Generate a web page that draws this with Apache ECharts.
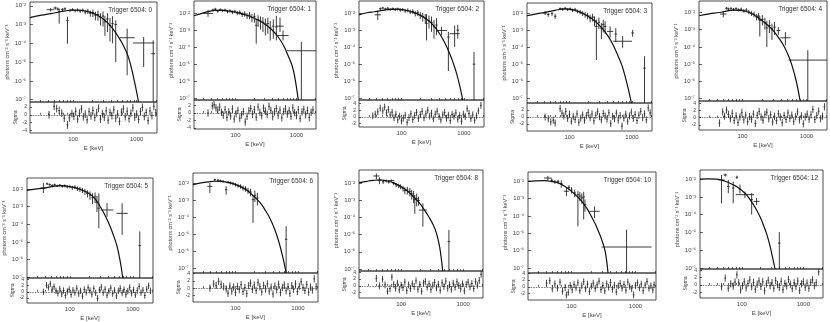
<!DOCTYPE html>
<html>
<head>
<meta charset="utf-8">
<script src="https://cdn.jsdelivr.net/npm/echarts@6/dist/echarts.min.js"></script>
<style>
html, body { margin: 0; background: #fff; }
#chart { width: 830px; height: 322px; }
</style>
</head>
<body>
<div id="chart"></div>
<script>
// all values are log10: E in keV, flux in photons cm^-2 s^-1 keV^-1
// spectrum points: [logE, logF, half bin width, upper end, lower end]
// residual points: [logE, sigma]
const titles = ['Trigger 6504: 0', 'Trigger 6504: 1', 'Trigger 6504: 2', 'Trigger 6504: 3', 'Trigger 6504: 4',
    'Trigger 6504: 5', 'Trigger 6504: 6', 'Trigger 6504: 8', 'Trigger 6504: 10', 'Trigger 6504: 12']
const xTickLabels = { 2: '100', 3: '1000' }
const yTickPowers = [-7, -6, -5, -4, -3, -2]
const energyRange = [1.32, 3.32]
const fluxRanges = [[-7.12, -1.8], [-7.1, -1.27], [-7.1, -1.29], [-7.25, -1.37], [-7.15, -1.33],
    [-7.04, -1.38], [-7.3, -1.37], [-7.12, -1.22], [-7.29, -1.46], [-7.06, -1.48]]
const sigmaRanges = [[-4.7, 3.3], [-4.3, 3.5], [-3, 5], [-4, 4], [-3.4, 4.6],
    [-3.6, 4.4], [-3.8, 4.2], [-3.6, 4.4], [-3.9, 4.1], [-3.6, 4.4]]

const curve0 = [[1.32,-2.63],[1.50,-2.50],[1.65,-2.42],[1.80,-2.32],[1.98,-2.24],[2.10,-2.24],[2.22,-2.30],[2.33,-2.42],[2.43,-2.60],[2.54,-2.90],[2.64,-3.30],[2.72,-3.70],[2.78,-4.05],[2.87,-4.73],[2.95,-5.80],[3.03,-7.12]]
const curve1 = [[1.32,-2.14],[1.45,-2.00],[1.55,-1.90],[1.66,-1.82],[1.80,-1.82],[1.93,-1.88],[2.07,-1.98],[2.21,-2.14],[2.35,-2.36],[2.48,-2.62],[2.60,-2.98],[2.70,-3.39],[2.79,-3.90],[2.87,-4.55],[2.93,-5.10],[2.97,-5.71],[3.03,-7.1]]
const curve2 = [[1.32,-2.10],[1.45,-1.98],[1.56,-1.92],[1.65,-1.87],[1.78,-1.80],[1.92,-1.77],[2.05,-1.82],[2.19,-1.96],[2.30,-2.13],[2.40,-2.35],[2.51,-2.72],[2.61,-3.21],[2.69,-3.72],[2.77,-4.37],[2.83,-4.95],[2.88,-5.52],[2.94,-6.40],[2.98,-7.1]]
const curve3 = [[1.32,-2.12],[1.45,-2.02],[1.61,-1.92],[1.77,-1.80],[1.93,-1.72],[2.07,-1.78],[2.20,-1.96],[2.31,-2.18],[2.41,-2.45],[2.52,-2.85],[2.62,-3.33],[2.70,-3.85],[2.78,-4.51],[2.84,-5.05],[2.89,-5.68],[2.94,-6.40],[2.99,-7.25]]
const curve4 = [[1.32,-2.19],[1.48,-2.08],[1.64,-2.00],[1.75,-1.92],[1.85,-1.86],[1.96,-1.88],[2.06,-1.94],[2.17,-2.12],[2.27,-2.38],[2.38,-2.70],[2.48,-3.05],[2.56,-3.45],[2.64,-3.91],[2.71,-4.45],[2.77,-5.05],[2.84,-6.00],[2.90,-7.15]]
const curve5 = [[1.32,-2.08],[1.45,-2.01],[1.58,-1.95],[1.72,-1.87],[1.85,-1.81],[1.98,-1.86],[2.11,-1.95],[2.22,-2.10],[2.33,-2.32],[2.41,-2.60],[2.48,-2.98],[2.56,-3.50],[2.64,-4.12],[2.70,-4.70],[2.75,-5.25],[2.80,-6.10],[2.84,-7.04]]
const curve6 = [[1.32,-2.06],[1.45,-1.96],[1.56,-1.90],[1.67,-1.86],[1.78,-1.87],[1.88,-1.93],[1.96,-2.00],[2.08,-2.18],[2.20,-2.44],[2.30,-2.78],[2.40,-3.15],[2.47,-3.54],[2.55,-4.05],[2.63,-4.73],[2.69,-5.40],[2.76,-6.40],[2.81,-7.3]]
const curve7 = [[1.32,-1.96],[1.45,-1.88],[1.55,-1.83],[1.65,-1.80],[1.76,-1.85],[1.87,-1.96],[1.98,-2.16],[2.08,-2.39],[2.19,-2.75],[2.30,-3.17],[2.38,-3.58],[2.46,-4.04],[2.52,-4.45],[2.57,-4.92],[2.62,-5.70],[2.67,-7.12]]
const curve8 = [[1.32,-2.00],[1.45,-1.97],[1.58,-1.96],[1.68,-2.00],[1.79,-2.09],[1.90,-2.30],[2.00,-2.58],[2.08,-2.85],[2.16,-3.15],[2.24,-3.56],[2.31,-4.02],[2.37,-4.45],[2.42,-4.88],[2.47,-5.35],[2.52,-5.94],[2.55,-6.60],[2.57,-7.29]]
const curve9 = [[1.32,-1.99],[1.45,-1.98],[1.59,-1.99],[1.67,-2.05],[1.75,-2.14],[1.84,-2.28],[1.92,-2.42],[2.00,-2.63],[2.08,-2.89],[2.16,-3.28],[2.24,-3.73],[2.30,-4.15],[2.35,-4.57],[2.41,-5.15],[2.46,-5.79],[2.50,-6.40],[2.54,-7.06]]

const spec0 = [[1.645,-2.21,0.06,-2.12,-2.30],[1.72,-2.12,0.03,-2.05,-2.20],[1.76,-2.18,0.02,-2.10,-2.26],[1.78,-2.32,0.02,-2.15,-2.95],[1.83,-2.20,0.02,-2.12,-2.28],[1.87,-2.16,0.02,-2.09,-2.24],[1.91,-2.78,0.02,-2.58,-4.02],[1.95,-2.24,0.02,-2.16,-2.33],[1.99,-2.20,0.02,-2.13,-2.28],[2.03,-2.26,0.02,-2.18,-2.35],[2.07,-2.22,0.02,-2.14,-2.31],[2.11,-2.28,0.02,-2.19,-2.38],[2.15,-2.24,0.02,-2.14,-2.35],[2.19,-2.33,0.02,-2.22,-2.46],[2.23,-2.29,0.02,-2.17,-2.44],[2.27,-2.40,0.02,-2.26,-2.58],[2.31,-2.36,0.02,-2.20,-2.60],[2.35,-2.50,0.02,-2.32,-2.78],[2.39,-2.46,0.02,-2.26,-2.80],[2.43,-2.62,0.02,-2.40,-3.05],[2.47,-2.55,0.02,-2.30,-3.10],[2.50,-2.85,0.02,-2.55,-3.60],[2.54,-2.70,0.02,-2.40,-3.40],[2.58,-3.05,0.02,-2.65,-3.90],[2.62,-2.95,0.02,-2.55,-4.00],[2.67,-3.00,0.02,-2.78,-5.00],[2.85,-3.70,0.12,-3.22,-5.70],[3.11,-3.98,0.17,-3.66,-5.26],[3.26,-4.55,0.03,-3.84,-7.12]]
const spec1 = [[1.55,-2.00,0.08,-1.81,-2.20],[1.63,-1.80,0.02,-1.72,-1.88],[1.67,-1.75,0.02,-1.67,-1.83],[1.71,-1.86,0.02,-1.78,-1.95],[1.75,-1.78,0.02,-1.70,-1.86],[1.79,-1.84,0.02,-1.76,-1.92],[1.83,-1.80,0.02,-1.72,-1.89],[1.87,-1.90,0.02,-1.81,-2.00],[1.91,-1.85,0.02,-1.76,-1.95],[1.95,-1.93,0.02,-1.83,-2.04],[1.99,-1.88,0.02,-1.78,-1.99],[2.03,-1.98,0.02,-1.87,-2.10],[2.07,-1.94,0.02,-1.82,-2.08],[2.11,-2.06,0.02,-1.93,-2.21],[2.15,-2.02,0.02,-1.88,-2.19],[2.19,-2.14,0.02,-1.98,-2.34],[2.23,-2.10,0.02,-1.92,-2.34],[2.27,-2.24,0.02,-2.04,-2.52],[2.31,-2.20,0.02,-1.98,-2.55],[2.34,-2.70,0.02,-2.33,-3.78],[2.37,-2.35,0.02,-2.10,-2.80],[2.41,-2.45,0.02,-2.18,-2.95],[2.45,-2.52,0.02,-2.22,-3.10],[2.49,-2.65,0.02,-2.30,-3.30],[2.53,-2.60,0.02,-2.25,-3.20],[2.57,-2.85,0.02,-2.45,-3.60],[2.62,-2.75,0.02,-2.35,-3.50],[2.67,-2.80,0.02,-2.14,-3.59],[2.73,-2.75,0.06,-2.24,-3.10],[2.78,-3.30,0.09,-3.00,-3.59],[3.08,-4.20,0.24,-3.68,-7.10]]
const spec2 = [[1.62,-2.10,0.05,-1.87,-2.41],[1.66,-1.74,0.02,-1.67,-1.82],[1.70,-1.70,0.02,-1.63,-1.77],[1.74,-1.76,0.02,-1.69,-1.84],[1.78,-1.72,0.02,-1.65,-1.80],[1.82,-1.78,0.02,-1.71,-1.86],[1.86,-1.74,0.02,-1.67,-1.82],[1.90,-1.80,0.02,-1.72,-1.88],[1.94,-1.76,0.02,-1.68,-1.85],[1.98,-1.82,0.02,-1.73,-1.92],[2.02,-1.79,0.02,-1.70,-1.89],[2.06,-1.87,0.02,-1.77,-1.98],[2.10,-1.84,0.02,-1.73,-1.96],[2.14,-1.93,0.02,-1.81,-2.06],[2.18,-1.90,0.02,-1.77,-2.05],[2.22,-2.02,0.02,-1.87,-2.20],[2.26,-1.98,0.02,-1.82,-2.18],[2.30,-2.12,0.02,-1.94,-2.36],[2.34,-2.20,0.02,-1.98,-2.50],[2.38,-2.30,0.02,-2.06,-2.62],[2.40,-2.60,0.02,-2.06,-3.60],[2.44,-2.45,0.02,-2.15,-2.90],[2.48,-2.55,0.02,-2.20,-3.10],[2.52,-2.80,0.02,-2.40,-3.50],[2.56,-2.70,0.02,-2.30,-3.30],[2.64,-3.02,0.09,-2.80,-3.30],[2.75,-3.40,0.02,-3.10,-5.40],[2.85,-3.21,0.08,-2.73,-3.98],[2.90,-3.00,0.02,-2.70,-3.50],[3.16,-5.00,0.02,-4.27,-7.10]]
const spec3 = [[1.61,-1.96,0.03,-1.85,-2.08],[1.66,-2.05,0.02,-1.94,-2.18],[1.72,-2.00,0.02,-1.90,-2.12],[1.77,-2.15,0.02,-2.02,-2.30],[1.85,-1.70,0.02,-1.63,-1.78],[1.89,-1.74,0.02,-1.66,-1.82],[1.93,-1.68,0.02,-1.60,-1.76],[1.97,-1.76,0.02,-1.68,-1.85],[2.01,-1.72,0.02,-1.63,-1.81],[2.05,-1.80,0.02,-1.70,-1.90],[2.09,-1.76,0.02,-1.66,-1.87],[2.13,-1.86,0.02,-1.75,-1.98],[2.17,-1.90,0.02,-1.78,-2.04],[2.21,-1.98,0.02,-1.85,-2.14],[2.25,-2.05,0.02,-1.90,-2.23],[2.29,-2.12,0.02,-1.95,-2.33],[2.33,-2.25,0.02,-2.06,-2.50],[2.37,-2.20,0.02,-2.00,-2.46],[2.40,-2.40,0.02,-2.15,-2.75],[2.43,-2.75,0.02,-2.35,-4.72],[2.47,-2.50,0.02,-2.22,-2.90],[2.51,-2.85,0.02,-2.55,-3.50],[2.54,-2.65,0.02,-2.35,-3.10],[2.57,-2.75,0.02,-2.45,-3.20],[2.65,-3.04,0.05,-2.75,-3.40],[2.74,-3.20,0.02,-2.85,-3.65],[2.85,-3.62,0.15,-3.30,-4.00],[3.01,-3.13,0.02,-2.95,-3.35],[3.20,-5.20,0.02,-4.50,-7.25]]
const spec4 = [[1.70,-2.09,0.05,-1.90,-2.28],[1.75,-1.75,0.02,-1.68,-1.83],[1.78,-1.80,0.02,-1.72,-1.88],[1.82,-1.76,0.02,-1.69,-1.84],[1.86,-1.82,0.02,-1.74,-1.90],[1.90,-1.78,0.02,-1.70,-1.86],[1.94,-1.85,0.02,-1.76,-1.94],[1.98,-1.81,0.02,-1.72,-1.91],[2.02,-1.90,0.02,-1.80,-2.01],[2.06,-1.86,0.02,-1.75,-1.98],[2.10,-1.97,0.02,-1.85,-2.10],[2.14,-2.05,0.02,-1.92,-2.20],[2.18,-2.10,0.02,-1.95,-2.28],[2.22,-2.25,0.02,-2.08,-2.46],[2.25,-2.20,0.02,-2.02,-2.42],[2.27,-2.45,0.02,-2.20,-3.40],[2.31,-2.40,0.02,-2.15,-2.75],[2.35,-2.60,0.02,-2.30,-3.00],[2.38,-2.90,0.02,-2.48,-4.00],[2.42,-2.75,0.02,-2.45,-3.20],[2.46,-2.95,0.02,-2.65,-3.60],[2.50,-2.85,0.02,-2.55,-3.30],[2.56,-3.05,0.03,-2.85,-3.30],[2.67,-3.47,0.08,-3.14,-3.91],[3.02,-4.77,0.30,-4.19,-7.15]]
const spec5 = [[1.58,-1.95,0.05,-1.66,-2.23],[1.64,-1.71,0.02,-1.64,-1.78],[1.68,-1.76,0.02,-1.69,-1.83],[1.72,-1.80,0.02,-1.73,-1.87],[1.76,-1.77,0.02,-1.70,-1.84],[1.80,-1.83,0.02,-1.76,-1.90],[1.84,-1.79,0.02,-1.72,-1.87],[1.88,-1.85,0.02,-1.77,-1.93],[1.92,-1.82,0.02,-1.74,-1.91],[1.96,-1.88,0.02,-1.79,-1.97],[2.00,-1.86,0.02,-1.77,-1.96],[2.04,-1.93,0.02,-1.83,-2.04],[2.08,-1.90,0.02,-1.79,-2.02],[2.12,-1.98,0.02,-1.86,-2.12],[2.16,-2.02,0.02,-1.89,-2.17],[2.20,-2.08,0.02,-1.94,-2.24],[2.24,-2.15,0.02,-2.00,-2.34],[2.28,-2.25,0.02,-2.07,-2.48],[2.32,-2.35,0.02,-2.14,-2.62],[2.36,-2.50,0.02,-2.25,-2.85],[2.40,-2.45,0.02,-2.20,-2.80],[2.43,-2.75,0.02,-2.40,-3.30],[2.46,-3.09,0.02,-2.25,-4.23],[2.59,-3.19,0.10,-2.80,-3.57],[2.83,-3.38,0.09,-2.81,-4.60],[3.11,-5.20,0.02,-4.40,-7.04]]
const spec6 = [[1.59,-2.16,0.04,-1.96,-2.56],[1.67,-1.77,0.02,-1.70,-1.85],[1.72,-1.80,0.02,-1.73,-1.88],[1.76,-1.84,0.02,-1.77,-1.92],[1.80,-1.87,0.02,-1.79,-1.95],[1.85,-2.36,0.02,-2.16,-2.65],[1.88,-1.92,0.02,-1.84,-2.00],[1.92,-1.96,0.02,-1.88,-2.05],[1.96,-2.00,0.02,-1.91,-2.10],[2.00,-2.06,0.02,-1.96,-2.17],[2.04,-2.12,0.02,-2.01,-2.24],[2.08,-2.16,0.02,-2.04,-2.30],[2.12,-2.26,0.02,-2.12,-2.42],[2.16,-2.30,0.02,-2.15,-2.48],[2.20,-2.42,0.02,-2.25,-2.62],[2.24,-2.50,0.02,-2.30,-2.75],[2.28,-2.95,0.02,-2.75,-4.33],[2.31,-2.70,0.02,-2.42,-3.10],[2.35,-2.85,0.02,-2.55,-3.30],[2.81,-5.30,0.02,-4.53,-7.30]]
const spec7 = [[1.60,-1.57,0.05,-1.42,-1.77],[1.65,-1.84,0.02,-1.65,-2.05],[1.71,-1.91,0.02,-1.80,-2.03],[1.76,-1.86,0.02,-1.78,-1.95],[1.80,-1.92,0.02,-1.83,-2.02],[1.84,-1.84,0.05,-1.76,-1.93],[1.88,-2.00,0.02,-1.90,-2.11],[1.92,-2.09,0.02,-1.98,-2.21],[1.96,-2.14,0.02,-2.02,-2.28],[1.99,-2.19,0.02,-2.06,-2.34],[2.03,-2.30,0.02,-2.15,-2.48],[2.06,-2.42,0.02,-2.24,-2.64],[2.10,-2.40,0.02,-2.20,-2.65],[2.14,-2.48,0.02,-2.26,-2.76],[2.17,-2.62,0.02,-2.38,-2.95],[2.20,-2.75,0.02,-2.45,-3.15],[2.22,-2.95,0.02,-2.68,-3.78],[2.25,-2.90,0.02,-2.60,-3.35],[2.28,-3.00,0.02,-2.78,-3.30],[2.35,-3.56,0.065,-3.17,-4.53],[2.77,-5.40,0.02,-4.72,-7.12]]
const spec8 = [[1.63,-1.81,0.06,-1.68,-1.95],[1.69,-1.94,0.02,-1.84,-2.05],[1.74,-2.03,0.02,-1.93,-2.14],[1.79,-2.00,0.02,-1.90,-2.12],[1.84,-2.13,0.02,-1.94,-2.37],[1.92,-2.57,0.04,-2.38,-2.86],[1.96,-2.35,0.02,-2.22,-2.50],[2.00,-2.50,0.02,-2.34,-2.70],[2.05,-2.67,0.02,-2.48,-2.92],[2.10,-2.77,0.02,-2.55,-4.60],[2.13,-2.85,0.02,-2.62,-3.15],[2.16,-2.96,0.02,-2.70,-3.30],[2.19,-2.90,0.02,-2.60,-4.20],[2.21,-3.34,0.02,-3.05,-3.75],[2.36,-3.73,0.08,-3.44,-4.12],[2.86,-5.79,0.39,-4.79,-7.29]]
const spec9 = [[1.67,-2.04,0.05,-1.76,-3.35],[1.73,-1.76,0.03,-1.68,-1.85],[1.78,-2.41,0.02,-2.04,-2.79],[1.86,-2.50,0.02,-2.13,-3.35],[1.92,-1.89,0.02,-1.80,-1.98],[1.97,-2.56,0.02,-2.30,-2.80],[2.05,-2.87,0.15,-2.70,-3.05],[2.16,-3.15,0.02,-2.78,-3.99],[2.24,-3.25,0.05,-3.05,-3.45],[2.61,-5.60,0.02,-4.98,-7.06]]

const res0 = [[1.62,0],[1.70,2.2],[1.74,1.6],[1.78,1.1],[1.82,0.4],[1.86,-0.9],[1.91,-2.6],[1.94,-0.8],[1.98,0.3],[2.01,-0.4],[2.04,0.9],[2.07,-1.1],[2.10,0.4],[2.13,1.5],[2.16,-0.5],[2.19,0.2],[2.22,-1.3],[2.25,0.8],[2.28,-0.3],[2.31,1.1],[2.34,-0.7],[2.37,0.5],[2.40,1.7],[2.43,-1.1],[2.46,0.3],[2.49,-0.6],[2.52,1.0],[2.55,-1.4],[2.58,0.6],[2.61,-0.2],[2.64,1.3],[2.67,-0.9],[2.70,0.2],[2.73,-1.7],[2.76,0.7],[2.79,1.5],[2.82,-0.5],[2.85,0.9],[2.88,-1.0],[2.91,0.4],[2.94,1.8],[2.97,-0.6],[3.00,0.2],[3.03,-1.2],[3.06,0.8],[3.09,1.9],[3.12,-0.4],[3.15,0.6],[3.18,-1.5],[3.21,1.0],[3.24,-0.2],[3.27,2.2],[3.30,0.5]]
const res1 = [[1.55,0],[1.62,1.9],[1.65,2.2],[1.68,1.4],[1.71,0.8],[1.74,1.6],[1.77,0.2],[1.80,-0.6],[1.83,0.9],[1.86,-1.2],[1.89,0.3],[1.92,-0.8],[1.95,1.1],[1.98,-1.6],[2.01,-0.2],[2.04,0.7],[2.07,-1.4],[2.10,-0.5],[2.13,0.4],[2.16,-2.4],[2.19,-0.9],[2.22,0.6],[2.25,1.2],[2.28,-0.3],[2.31,0.9],[2.34,-1.1],[2.37,1.6],[2.40,0.2],[2.43,-0.7],[2.46,1.3],[2.49,0.5],[2.52,-0.4],[2.55,1.8],[2.58,0.7],[2.61,-1.0],[2.64,0.3],[2.67,1.2],[2.70,-0.6],[2.73,0.8],[2.76,-1.3],[2.79,0.4],[2.82,1.1],[2.85,-0.3],[2.88,0.6],[2.91,-0.9],[2.94,1.4],[2.97,0.1],[3.00,-0.7],[3.03,0.9],[3.06,-1.5],[3.09,0.3],[3.12,1.0],[3.15,-0.5],[3.18,0.7],[3.21,-1.2],[3.24,0.2],[3.27,0.8]]
const res2 = [[1.54,0.3],[1.58,0.8],[1.62,1.5],[1.66,2.6],[1.70,1.8],[1.73,2.9],[1.76,1.2],[1.79,2.2],[1.82,0.6],[1.85,1.4],[1.88,-0.3],[1.91,0.8],[1.94,-0.9],[1.97,0.2],[2.00,-1.2],[2.03,-0.4],[2.06,0.5],[2.09,-1.6],[2.12,-0.2],[2.15,0.9],[2.18,-0.8],[2.21,0.4],[2.24,1.3],[2.27,-0.5],[2.30,0.7],[2.33,1.6],[2.36,-0.3],[2.39,0.9],[2.42,2.0],[2.45,0.2],[2.48,1.1],[2.51,-0.6],[2.54,0.8],[2.57,1.7],[2.60,0.1],[2.63,-0.9],[2.66,0.6],[2.69,1.3],[2.72,-0.4],[2.75,0.5],[2.78,-1.1],[2.81,0.7],[2.84,0.2],[2.87,1.2],[2.90,-0.7],[2.93,0.4],[2.96,-1.3],[2.99,0.8],[3.02,0.1],[3.05,2.4],[3.08,1.0],[3.11,-0.5],[3.14,0.6],[3.17,-1.0],[3.20,0.3],[3.23,1.8],[3.27,3.4]]
const res3 = [[1.61,0],[1.66,-0.5],[1.70,-1.4],[1.74,-0.9],[1.77,-1.7],[1.85,2.4],[1.88,1.1],[1.91,0.3],[1.94,1.6],[1.97,-0.4],[2.00,0.8],[2.03,-1.2],[2.06,0.2],[2.09,-0.7],[2.12,0.9],[2.15,-1.5],[2.18,-0.3],[2.21,0.6],[2.24,-0.9],[2.27,0.4],[2.30,1.3],[2.33,-0.2],[2.36,0.9],[2.39,-1.1],[2.42,0.5],[2.45,1.5],[2.48,0.1],[2.51,-0.8],[2.54,1.0],[2.57,0.3],[2.60,-0.6],[2.63,1.2],[2.66,-1.9],[2.69,0.2],[2.72,-0.5],[2.75,1.1],[2.78,-0.9],[2.81,0.4],[2.84,-2.6],[2.87,-0.3],[2.90,0.8],[2.93,-1.2],[2.96,0.3],[2.99,1.4],[3.02,-0.4],[3.05,0.7],[3.08,-1.0],[3.11,0.5],[3.14,1.6],[3.17,-0.2],[3.20,0.9],[3.23,-0.8],[3.26,2.6],[3.29,1.2]]
const res4 = [[1.64,-1.5],[1.69,1.6],[1.72,0.4],[1.75,2.1],[1.78,0.9],[1.81,-0.3],[1.84,1.2],[1.87,-0.8],[1.90,0.5],[1.93,-1.3],[1.96,0.2],[1.99,1.4],[2.02,-0.6],[2.05,0.7],[2.08,-1.1],[2.11,0.3],[2.14,-0.4],[2.17,1.0],[2.20,-1.6],[2.23,0.6],[2.26,1.7],[2.29,0.2],[2.32,-0.7],[2.35,0.9],[2.38,1.5],[2.41,-0.3],[2.44,0.8],[2.47,-1.2],[2.50,0.4],[2.53,-0.8],[2.56,1.1],[2.59,0.2],[2.62,-1.4],[2.65,0.6],[2.68,-0.5],[2.71,1.3],[2.74,-0.2],[2.77,0.7],[2.80,-1.0],[2.83,0.3],[2.86,1.6],[2.89,-0.6],[2.92,0.5],[2.95,-1.7],[2.98,0.2],[3.01,1.0],[3.04,-0.4],[3.07,0.8],[3.10,2.3],[3.13,-0.5],[3.16,0.6],[3.19,1.8],[3.22,-0.3],[3.25,0.4],[3.28,3.0]]
const res5 = [[1.58,0],[1.63,2.1],[1.66,1.4],[1.69,2.5],[1.72,0.8],[1.75,1.6],[1.78,0.3],[1.81,-0.5],[1.84,0.9],[1.87,-0.7],[1.90,0.4],[1.93,-1.2],[1.96,0.1],[1.99,0.8],[2.02,-0.9],[2.05,0.5],[2.08,-0.3],[2.11,1.1],[2.14,-0.6],[2.17,0.3],[2.20,-1.4],[2.23,0.7],[2.26,-0.2],[2.29,1.3],[2.32,0.4],[2.35,-0.8],[2.38,1.0],[2.41,-0.4],[2.44,-2.1],[2.47,0.6],[2.50,1.5],[2.53,-0.3],[2.56,0.8],[2.59,-1.1],[2.62,0.2],[2.65,1.2],[2.68,-0.6],[2.71,0.5],[2.74,-1.3],[2.77,0.3],[2.80,1.1],[2.83,-0.4],[2.86,0.7],[2.89,-0.9],[2.92,0.2],[2.95,1.4],[2.98,-0.5],[3.01,0.6],[3.04,-1.0],[3.07,0.4],[3.10,1.7],[3.13,-0.3],[3.16,0.5],[3.19,-1.2],[3.22,0.8],[3.25,1.9],[3.28,0.3]]
const res6 = [[1.59,0],[1.65,1.2],[1.69,0.8],[1.73,1.9],[1.77,1.1],[1.81,0.4],[1.85,-0.2],[1.88,-1.4],[1.91,0.6],[1.94,-0.8],[1.97,0.3],[2.00,-1.2],[2.03,0.5],[2.06,-0.4],[2.09,1.0],[2.12,-0.9],[2.15,0.2],[2.18,-1.5],[2.21,0.7],[2.24,1.4],[2.27,-0.3],[2.30,0.9],[2.33,-0.6],[2.36,1.6],[2.39,0.4],[2.42,-1.0],[2.45,0.8],[2.48,-0.2],[2.51,1.2],[2.54,-0.8],[2.57,0.3],[2.60,-1.6],[2.63,0.6],[2.66,-0.4],[2.69,1.1],[2.72,-1.2],[2.75,0.2],[2.78,0.9],[2.81,-0.7],[2.84,0.4],[2.87,-1.4],[2.90,0.7],[2.93,-0.3],[2.96,1.2],[2.99,-0.9],[3.02,0.5],[3.05,1.8],[3.08,0.2],[3.11,-0.6],[3.14,1.0],[3.17,-1.1],[3.20,0.3],[3.23,-0.5],[3.26,2.6],[3.29,0.4]]
const res7 = [[1.60,2.2],[1.65,0],[1.70,2.0],[1.74,0.3],[1.78,-1.6],[1.82,-0.8],[1.85,2.6],[1.88,0.4],[1.91,-0.7],[1.94,0.8],[1.97,-1.2],[2.00,0.2],[2.03,-0.5],[2.06,1.1],[2.09,-1.4],[2.12,0.3],[2.15,-0.8],[2.18,0.6],[2.21,-0.2],[2.24,1.5],[2.27,-1.0],[2.30,0.4],[2.33,-1.6],[2.36,0.8],[2.39,1.3],[2.42,-0.4],[2.45,0.6],[2.48,-1.1],[2.51,0.2],[2.54,1.0],[2.57,-0.6],[2.60,0.5],[2.63,-1.3],[2.66,0.9],[2.69,-0.2],[2.72,1.4],[2.75,-0.7],[2.78,0.3],[2.81,-1.0],[2.84,0.8],[2.87,-0.4],[2.90,1.2],[2.93,0.1],[2.96,-0.9],[2.99,0.6],[3.02,-1.5],[3.05,0.4],[3.08,1.1],[3.11,-0.3],[3.14,0.7],[3.17,-0.8],[3.20,1.3],[3.23,0.2],[3.26,1.6],[3.29,3.4]]
const res8 = [[1.61,1.1],[1.66,1.8],[1.70,-0.6],[1.74,0.9],[1.78,-0.4],[1.82,1.4],[1.86,-1.3],[1.90,-0.2],[1.92,-2.4],[1.95,-1.6],[1.98,0.4],[2.01,-0.9],[2.04,0.7],[2.07,-0.3],[2.10,1.2],[2.13,-1.1],[2.16,0.3],[2.19,1.5],[2.22,-0.6],[2.25,0.8],[2.28,-1.4],[2.31,0.2],[2.34,1.1],[2.37,-0.5],[2.40,0.6],[2.43,1.7],[2.46,-0.8],[2.49,0.4],[2.52,-1.2],[2.55,0.9],[2.58,-0.1],[2.61,1.3],[2.64,-0.7],[2.67,0.5],[2.70,-1.5],[2.73,0.3],[2.76,1.0],[2.79,-0.4],[2.82,0.7],[2.85,-1.0],[2.88,1.4],[2.91,0.1],[2.94,-0.6],[2.97,-2.4],[3.00,0.4],[3.03,1.2],[3.06,-0.3],[3.09,0.8],[3.12,-1.1],[3.15,0.5],[3.18,1.6],[3.21,-0.4],[3.24,0.3],[3.27,-0.9],[3.29,0.6]]
const res9 = [[1.67,-0.5],[1.73,1.9],[1.78,-0.9],[1.82,0.3],[1.86,-0.3],[1.89,0.8],[1.92,2.8],[1.95,0.6],[1.98,-1.4],[2.01,-0.2],[2.04,0.9],[2.07,-0.8],[2.10,0.4],[2.13,1.4],[2.16,-0.5],[2.19,0.7],[2.22,-1.2],[2.25,0.2],[2.28,1.1],[2.31,-0.4],[2.34,0.9],[2.37,-1.6],[2.40,0.3],[2.43,1.3],[2.46,-0.2],[2.49,0.6],[2.52,-0.9],[2.55,1.2],[2.58,0.1],[2.61,-0.7],[2.64,1.0],[2.67,-1.3],[2.70,0.4],[2.73,-0.3],[2.76,1.5],[2.79,0.2],[2.82,-1.0],[2.85,0.6],[2.88,-0.4],[2.91,1.1],[2.94,-1.5],[2.97,0.3],[3.00,0.9],[3.03,-0.6],[3.06,0.5],[3.09,-0.9],[3.12,0.7],[3.15,1.4],[3.18,-0.2],[3.21,0.6],[3.25,3.6]]

const curves = [curve0, curve1, curve2, curve3, curve4, curve5, curve6, curve7, curve8, curve9]
const spectra = [spec0, spec1, spec2, spec3, spec4, spec5, spec6, spec7, spec8, spec9]
const residuals = [res0, res1, res2, res3, res4, res5, res6, res7, res8, res9]

// panel boxes in pixels: left, right, top, split between plots, bottom
const boxes = [
    [30, 157, 2, 102, 133], [194, 316, 1, 100, 129], [359, 484, 1, 100, 127], [527, 652, 3, 103, 131], [699, 827, 1, 101, 130],
    [27, 153, 178, 278, 307], [193, 318, 173, 273, 302], [359, 483, 170, 271, 298], [528, 656, 172, 273, 300], [700, 823, 170, 269, 298]
]

const FONT = 'Liberation Sans'
const INK = '#222'
const SUP = { '-': '⁻', '0': '⁰', '1': '¹', '2': '²', '3': '³', '4': '⁴', '5': '⁵', '6': '⁶', '7': '⁷', '8': '⁸', '9': '⁹' }
const sup = s => String(s).split('').map(c => SUP[c] || c).join('')

// tick marks of a log axis (positions only)
const xTicks = []
for (let d = 1; d <= 3; d++) {
    for (let k = 1; k <= 9; k++) {
        const v = d + Math.log10(k)
        if (v >= energyRange[0] && v <= energyRange[1]) xTicks.push(v)
    }
}

// 误差棒
const makeErrRender = width => (params, api) => {
    const x = api.value(0), y = api.value(1), dx = api.value(2)
    const a = api.coord([x - dx, y]), b = api.coord([x + dx, y])
    const c = api.coord([x, api.value(3)]), d = api.coord([x, api.value(4)])
    const style = { stroke: '#262626', lineWidth: width }
    return {
        type: 'group',
        children: [
            { type: 'line', shape: { x1: a[0], y1: a[1], x2: b[0], y2: b[1] }, style },
            { type: 'line', shape: { x1: c[0], y1: c[1], x2: d[0], y2: d[1] }, style },
        ],
    }
}

const grid = [], xAxis = [], yAxis = [], series = [], title = []
boxes.forEach(([l, r, t, m, b], i) => {
    const gTop = 2 * i, gRes = 2 * i + 1
    grid.push({ left: l, top: t, width: r - l, height: m - t, show: true, borderColor: INK, borderWidth: 0.8 })
    grid.push({ left: l, top: m, width: r - l, height: b - m, show: true, borderColor: INK, borderWidth: 0.8 })
    const tickStyle = { color: INK, width: 0.7 }
    xAxis.push({
        type: 'value', gridIndex: gTop, min: energyRange[0], max: energyRange[1],
        axisLine: { show: false }, splitLine: { show: false }, axisLabel: { show: false },
        axisTick: { show: true, inside: true, length: 2, customValues: xTicks, lineStyle: tickStyle },
    })
    xAxis.push({
        type: 'value', gridIndex: gRes, min: energyRange[0], max: energyRange[1],
        axisLine: { show: false }, splitLine: { show: false },
        axisTick: { show: true, inside: true, length: 2, customValues: xTicks, lineStyle: tickStyle },
        axisLabel: {
            customValues: [2, 3], formatter: v => xTickLabels[Math.round(v)],
            fontSize: 6, fontFamily: FONT, color: '#444', margin: 3,
        },
        name: 'E [keV]', nameLocation: 'middle', nameGap: 12,
        nameTextStyle: { fontSize: 6, fontFamily: FONT, color: '#444' },
    })
    yAxis.push({
        type: 'value', gridIndex: gTop, min: fluxRanges[i][0], max: fluxRanges[i][1],
        axisLine: { show: false }, splitLine: { show: false },
        axisTick: { show: true, inside: true, length: 3, customValues: yTickPowers, lineStyle: tickStyle },
        axisLabel: {
            customValues: yTickPowers, formatter: v => '10' + sup(Math.round(v)),
            fontSize: 6, fontFamily: FONT, color: '#444', margin: 4,
        },
        name: 'photons cm⁻² s⁻¹ keV⁻¹', nameLocation: 'middle', nameRotate: 90, nameGap: 18,
        nameTextStyle: { fontSize: 5.5, fontFamily: FONT, color: '#444' },
    })
    const sr = sigmaRanges[i]
    const sTicks = []
    for (let s = -4; s <= 4; s += 2) if (s > sr[0] && s < sr[1]) sTicks.push(s)
    yAxis.push({
        type: 'value', gridIndex: gRes, min: sr[0], max: sr[1],
        axisLine: { show: false }, splitLine: { show: false },
        axisTick: { show: true, inside: true, length: 2, customValues: sTicks, lineStyle: tickStyle },
        axisLabel: { customValues: sTicks, fontSize: 5, fontFamily: FONT, color: '#444', margin: 3 },
        name: 'Sigma', nameLocation: 'middle', nameRotate: 90, nameGap: 12,
        nameTextStyle: { fontSize: 5, fontFamily: FONT, color: '#444' },
    })
    series.push({
        type: 'custom', xAxisIndex: gTop, yAxisIndex: gTop, clip: true, silent: true,
        renderItem: makeErrRender(0.9), encode: { x: 0, y: 1 }, data: spectra[i], z: 2,
    })
    series.push({
        type: 'line', xAxisIndex: gTop, yAxisIndex: gTop, data: curves[i], smooth: 0.4,
        showSymbol: false, silent: true, clip: true, z: 3,
        lineStyle: { color: '#111', width: 1.2 },
    })
    series.push({
        type: 'custom', xAxisIndex: gRes, yAxisIndex: gRes, clip: true, silent: true,
        renderItem: makeErrRender(0.85), encode: { x: 0, y: 1 },
        data: residuals[i].map(([x, s]) => [x, s, 0.014, s + 1, s - 1]),
        markLine: {
            silent: true, symbol: 'none', label: { show: false },
            lineStyle: { type: 'dotted', color: '#333', width: 0.8 },
            data: [{ yAxis: 0 }],
        },
    })
    title.push({
        text: titles[i], right: 830 - r + 5, top: t + 5, padding: 0,
        textStyle: { fontSize: 6.5, fontWeight: 'normal', fontFamily: FONT, color: '#333' },
    })
})

const chart = echarts.init(document.getElementById('chart'), null, { renderer: 'canvas' })
chart.setOption({
    animation: false,
    backgroundColor: '#fff',
    title,
    grid,
    xAxis,
    yAxis,
    series,
})
</script>
</body>
</html>
